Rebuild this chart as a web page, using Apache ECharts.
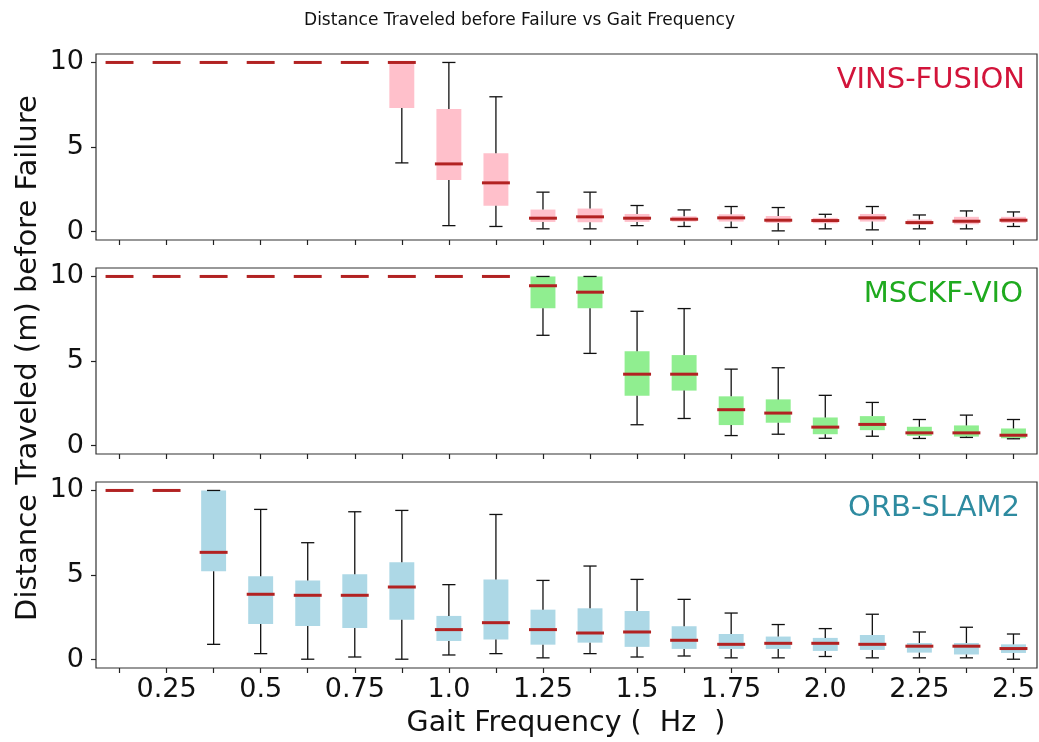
<!DOCTYPE html>
<html>
<head>
<meta charset="utf-8">
<script src="https://cdn.jsdelivr.net/npm/echarts@6/dist/echarts.min.js"></script>
<style>
  html, body { margin: 0; padding: 0; background: #fff; }
  #chart { width: 1039px; height: 742px; }
</style>
</head>
<body>
<div id="chart"></div>
<script>
// ---- data ----
const categories = ['0.125','0.25','0.375','0.5','0.625','0.75','0.875','1.0','1.125','1.25',
                    '1.375','1.5','1.625','1.75','1.875','2.0','2.125','2.25','2.375','2.5'];
const yTicks = [0, 5, 10];

const vinsLow  = [10,10,10,10,10,10,4.06,0.35,0.3,0.16,0.16,0.35,0.3,0.24,0.04,0.16,0.1,0.16,0.16,0.3];
const vinsQ1   = [10,10,10,10,10,10,7.3,3.05,1.52,0.57,0.55,0.57,0.59,0.59,0.51,0.49,0.59,0.41,0.43,0.51];
const vinsMed  = [10,10,10,10,10,10,10,4.0,2.88,0.79,0.87,0.79,0.73,0.81,0.67,0.65,0.81,0.53,0.61,0.67];
const vinsQ3   = [10,10,10,10,10,10,10,7.24,4.63,1.3,1.36,1.04,0.9,1.02,0.92,0.81,1.04,0.71,0.87,0.87];
const vinsHigh = [10,10,10,10,10,10,10,10,7.97,2.33,2.33,1.54,1.28,1.48,1.42,1.02,1.48,0.98,1.22,1.16];

const msckfLow  = [10,10,10,10,10,10,10,10,10,6.52,5.45,1.23,1.6,0.59,0.67,0.43,0.55,0.42,0.48,0.4];
const msckfQ1   = [10,10,10,10,10,10,10,10,10,8.12,8.12,2.95,3.25,1.21,1.35,0.67,0.91,0.57,0.53,0.43];
const msckfMed  = [10,10,10,10,10,10,10,10,10,9.45,9.07,4.22,4.22,2.12,1.92,1.09,1.25,0.75,0.75,0.61];
const msckfQ3   = [10,10,10,10,10,10,10,10,10,10,10,5.58,5.35,2.91,2.73,1.66,1.74,1.11,1.19,1.01];
const msckfHigh = [10,10,10,10,10,10,10,10,10,10,10,7.94,8.1,4.52,4.6,2.97,2.55,1.54,1.8,1.54];

const orbLow  = [10,10,0.9,0.35,0.02,0.15,0.02,0.27,0.35,0.1,0.35,0.15,0.21,0.1,0.1,0.18,0.1,0.1,0.1,0.02];
const orbQ1   = [10,10,5.22,2.1,1.99,1.87,2.36,1.1,1.18,0.88,1.0,0.75,0.63,0.63,0.63,0.51,0.57,0.41,0.3,0.39];
const orbMed  = [10,10,6.34,3.86,3.8,3.8,4.29,1.77,2.18,1.77,1.57,1.63,1.14,0.9,0.96,0.96,0.9,0.79,0.79,0.65];
const orbQ3   = [10,10,10,4.92,4.68,5.04,5.75,2.58,4.74,2.95,3.03,2.87,1.97,1.51,1.36,1.28,1.45,0.98,0.98,0.9];
const orbHigh = [10,10,10,8.88,6.91,8.74,8.82,4.43,8.58,4.68,5.53,4.74,3.56,2.75,2.07,1.83,2.68,1.63,1.91,1.51];

const panelNames = ['VINS-FUSION', 'MSCKF-VIO', 'ORB-SLAM2'];
// ---- end data ----

const FONT = 'DejaVu Sans';
const panels = [
  { name: panelNames[0], low: vinsLow,  q1: vinsQ1,  med: vinsMed,  q3: vinsQ3,  high: vinsHigh,  fill: '#FFC0CB', text: '#D2143A', right: 14 },
  { name: panelNames[1], low: msckfLow, q1: msckfQ1, med: msckfMed, q3: msckfQ3, high: msckfHigh, fill: '#90EE90', text: '#1FAA1F', right: 16 },
  { name: panelNames[2], low: orbLow,   q1: orbQ1,   med: orbMed,   q3: orbQ3,   high: orbHigh,   fill: '#ADD8E6', text: '#2E8BA0', right: 19 }
];

const gridTops = [54, 268, 482];
const gridH = 186;
const gridLeft = 96, gridW = 941;

function makeRender(fill) {
  return function (params, api) {
    const xi = api.value(0);
    const band = api.size([1, 0])[0];
    const bw = band * 0.53;
    const cw = band * 0.28;
    const pLow = api.coord([xi, api.value(1)]);
    const pQ1 = api.coord([xi, api.value(2)]);
    const pMed = api.coord([xi, api.value(3)]);
    const pQ3 = api.coord([xi, api.value(4)]);
    const pHigh = api.coord([xi, api.value(5)]);
    const cx = pMed[0];
    const lineStyle = { stroke: '#111', lineWidth: 1.3 };
    return {
      type: 'group',
      children: [
        { type: 'rect', shape: { x: cx - bw / 2, y: pQ3[1], width: bw, height: pQ1[1] - pQ3[1] },
          style: { fill: fill } },
        { type: 'line', shape: { x1: cx, y1: pQ1[1], x2: cx, y2: pLow[1] }, style: lineStyle },
        { type: 'line', shape: { x1: cx, y1: pQ3[1], x2: cx, y2: pHigh[1] }, style: lineStyle },
        { type: 'line', shape: { x1: cx - cw / 2, y1: pLow[1], x2: cx + cw / 2, y2: pLow[1] }, style: lineStyle },
        { type: 'line', shape: { x1: cx - cw / 2, y1: pHigh[1], x2: cx + cw / 2, y2: pHigh[1] }, style: lineStyle },
        { type: 'line', shape: { x1: cx - bw / 2 - 1.5, y1: pMed[1], x2: cx + bw / 2 + 1.5, y2: pMed[1] },
          style: { stroke: '#B22222', lineWidth: 3 } }
      ]
    };
  };
}

const grid = [], xAxis = [], yAxis = [], series = [], graphic = [];
panels.forEach((p, k) => {
  grid.push({ left: gridLeft, top: gridTops[k], width: gridW, height: gridH,
              show: true, borderColor: '#333', borderWidth: 1.2, backgroundColor: 'transparent' });
  xAxis.push({
    type: 'category', gridIndex: k, data: categories, boundaryGap: true, position: 'bottom',
    axisLine: { show: false, onZero: false },
    axisTick: { show: true, interval: 0, alignWithLabel: true, length: 5, lineStyle: { color: '#222', width: 1.2 } },
    axisLabel: {
      show: k === 2,
      interval: function (i) { return i % 2 === 1; },
      fontFamily: FONT, fontSize: 27, color: '#111', margin: 8
    },
    splitLine: { show: false }
  });
  yAxis.push({
    type: 'value', gridIndex: k, min: -0.5, max: 10.5,
    axisLine: { show: false, onZero: false },
    axisTick: { show: true, customValues: yTicks, length: 5, lineStyle: { color: '#222', width: 1.2 } },
    axisLabel: { show: true, customValues: yTicks, fontFamily: FONT, fontSize: 27, color: '#111', margin: 12 },
    splitLine: { show: false }
  });
  const data = categories.map((c, i) => [i, p.low[i], p.q1[i], p.med[i], p.q3[i], p.high[i]]);
  series.push({
    type: 'custom', xAxisIndex: k, yAxisIndex: k, clip: false,
    renderItem: makeRender(p.fill),
    encode: { x: 0, y: [1, 2, 3, 4, 5] },
    data: data, silent: true, animation: false
  });
  graphic.push({
    type: 'text', right: p.right, top: gridTops[k] + 12,
    style: { text: p.name, fill: p.text, font: '29px "DejaVu Sans"' }
  });
});

graphic.push({
  type: 'text', left: 'center', top: 12,
  style: { text: 'Distance Traveled before Failure vs Gait Frequency', fill: '#111', font: '17px "DejaVu Sans"' }
});
graphic.push({
  type: 'text', x: 566, y: 724,
  style: { text: 'Gait Frequency (  Hz  )', fill: '#111', font: '28.5px "DejaVu Sans"',
           textAlign: 'center', textVerticalAlign: 'middle' }
});
graphic.push({
  type: 'text', x: 28, y: 358, rotation: Math.PI / 2,
  style: { text: 'Distance Traveled (m) before Failure', fill: '#111', font: '29px "DejaVu Sans"',
           textAlign: 'center', textVerticalAlign: 'middle' }
});

const chart = echarts.init(document.getElementById('chart'), null, { renderer: 'canvas' });
chart.setOption({
  backgroundColor: '#fff',
  animation: false,
  grid, xAxis, yAxis, series, graphic
});
</script>
</body>
</html>
